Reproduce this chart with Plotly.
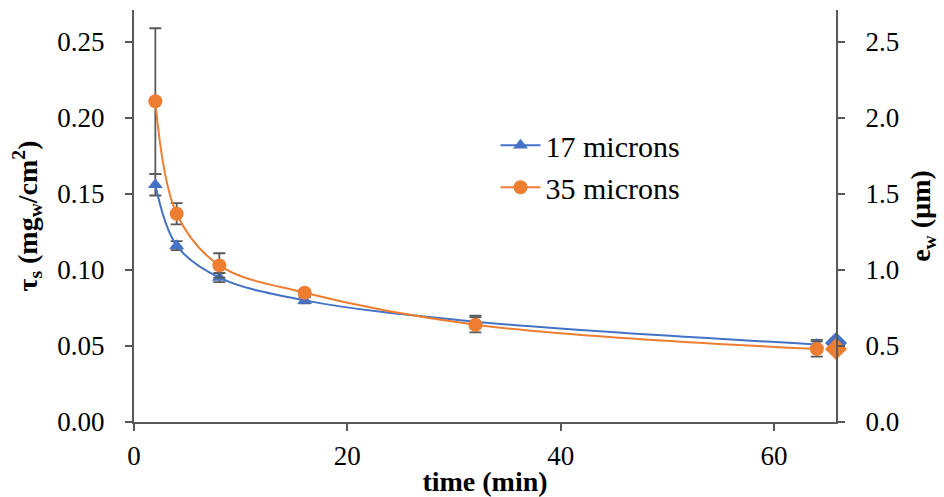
import plotly.graph_objects as go

time_min = [2, 4, 8, 16, 32, 64]
tau_17 = [0.156, 0.116, 0.095, 0.080, 0.066, 0.051]
err_17 = [0.007, 0.003, 0.003, 0.002, 0.004, 0.003]
tau_35 = [0.211, 0.137, 0.103, 0.085, 0.064, 0.048]
err_35 = [0.048, 0.007, 0.008, 0.002, 0.005, 0.005]
ew_x = [65.8]
ew_17 = [0.52]
ew_35 = [0.48]

blue = "#4472C4"
orange = "#ED7D31"
grey = "#595959"
font = "Liberation Serif, serif"

fig = go.Figure()

fig.add_trace(go.Scatter(
    x=time_min, y=tau_17, name="17 microns", mode="lines+markers",
    line=dict(color=blue, width=2, shape="spline", smoothing=1.0),
    marker=dict(symbol="triangle-up", size=13, color=blue),
    error_y=dict(type="data", array=err_17, color=grey, thickness=1.8, width=6),
))
fig.add_trace(go.Scatter(
    x=time_min, y=tau_35, name="35 microns", mode="lines+markers",
    line=dict(color=orange, width=2, shape="spline", smoothing=1.0),
    marker=dict(symbol="circle", size=14, color=orange),
    error_y=dict(type="data", array=err_35, color=grey, thickness=1.8, width=6),
))
fig.add_trace(go.Scatter(
    x=ew_x, y=ew_17, yaxis="y2", mode="markers", showlegend=False,
    marker=dict(symbol="diamond", size=17, color=blue), cliponaxis=False,
))
fig.add_trace(go.Scatter(
    x=ew_x, y=ew_35, yaxis="y2", mode="markers", showlegend=False,
    marker=dict(symbol="diamond", size=17, color=orange), cliponaxis=False,
))

axis_common = dict(
    showgrid=False, zeroline=False, showline=True, linecolor=grey, linewidth=2,
    ticks="outside", tickcolor=grey, ticklen=7, tickwidth=1.5, automargin=False,
    tickfont=dict(family=font, size=27, color="black"),
)

fig.update_layout(
    width=944, height=497,
    margin=dict(l=134, r=108, t=10, b=75),
    paper_bgcolor="white", plot_bgcolor="white",
    font=dict(family=font, size=27, color="black"),
    showlegend=True,
    legend=dict(x=0.515, y=0.735, xanchor="left", yanchor="top",
                bgcolor="rgba(0,0,0,0)", font=dict(family=font, size=30, color="black"),
                itemwidth=40, tracegroupgap=0),
    xaxis=dict(
        range=[0, 65.8], tickvals=[0, 20, 40, 60], ticklabelstandoff=2,
        title=dict(text="<b>time (min)</b>", font=dict(family=font, size=28, color="black"), standoff=0),
        **axis_common,
    ),
    yaxis=dict(
        range=[0, 0.271], tickvals=[0, 0.05, 0.10, 0.15, 0.20, 0.25], tickformat=".2f",
        ticklabelstandoff=15,
        title=dict(text="<b>τ<sub>s</sub> (mg<sub>w</sub>/cm<sup>2</sup>)</b>",
                   font=dict(family=font, size=28, color="black"), standoff=12),
        **axis_common,
    ),
    yaxis2=dict(
        overlaying="y", side="right", range=[0, 2.71],
        tickvals=[0, 0.5, 1.0, 1.5, 2.0, 2.5], tickformat=".1f",
        ticklabelstandoff=15,
        title=dict(text="<b>e<sub>w</sub> (µm)</b>", font=dict(family=font, size=28, color="black"), standoff=12),
        **axis_common,
    ),
)

fig.write_html("out.html")
